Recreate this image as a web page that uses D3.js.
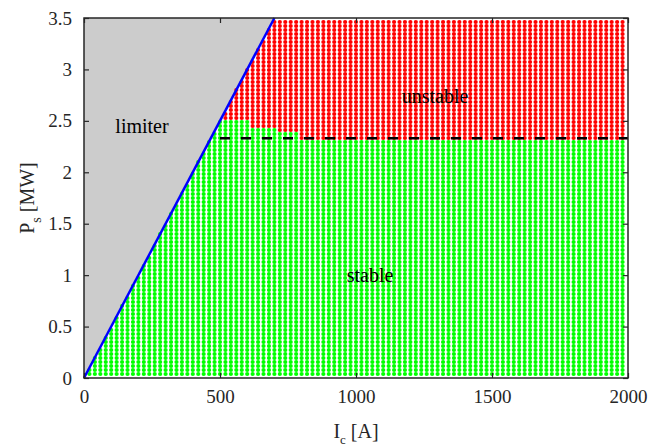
<!DOCTYPE html>
<html><head><meta charset="utf-8">
<script src="https://cdn.jsdelivr.net/npm/d3@7/dist/d3.min.js"></script>
<style>body{margin:0;background:#fff}svg{display:block}svg text{font-family:"Times New Roman","Liberation Serif","DejaVu Serif",serif !important}</style>
</head><body><svg id="c" width="650" height="447"></svg>
<script>
// sweep grid of the study
const currentGrid = d3.range(20, 2000, 20);               // I_c [A]
const powerGrid = d3.range(1, 90).map(k => k * 3.5 / 90);  // P_s [MW]
// limiter line
const limiterI = [0, 700];
const limiterP = [0, 3.5];
// stability boundary (upper stable P per current range)
const boundaryIUpper = [600, 700, 780, 2000];
const boundaryP = [2.49, 2.42, 2.38, 2.32];
const dashedI = [500, 2000];
const dashedP = 2.33;
const xTicks = [0, 500, 1000, 1500, 2000];
const yTicks = [0, 0.5, 1, 1.5, 2, 2.5, 3, 3.5];
const labels = [{t:"limiter", x:142, y:133}, {t:"unstable", x:435, y:103}, {t:"stable", x:370, y:282}];

const W = 650, H = 447, m = {l:84, r:22, t:18, b:69};
const svg = d3.select("#c");
const x = d3.scaleLinear().domain([0, 2000]).range([m.l, W - m.r]);
const y = d3.scaleLinear().domain([0, 3.5]).range([H - m.b, m.t]);
const slope = limiterP[1] / limiterI[1];

svg.append("path")
  .attr("d", d3.line()([[x(0), y(0)], [x(limiterI[1]), y(limiterP[1])], [x(0), y(3.5)]]) + "Z")
  .attr("fill", "#cccccc");

const pts = [];
currentGrid.forEach(I => {
  const idx = boundaryIUpper.findIndex(b => I <= b);
  const lim = boundaryP[idx];
  powerGrid.forEach(P => {
    if (P <= slope * I + 1e-9) pts.push({I, P, s: P <= lim});
  });
});
svg.append("g").selectAll("circle").data(pts).join("circle")
  .attr("cx", d => x(d.I)).attr("cy", d => y(d.P)).attr("r", 2.1)
  .attr("fill", d => d.s ? "#00ff00" : "#ff0000");

svg.append("line").attr("x1", x(limiterI[0])).attr("y1", y(limiterP[0]))
  .attr("x2", x(limiterI[1])).attr("y2", y(limiterP[1]))
  .attr("stroke", "#0000ff").attr("stroke-width", 2.5);

svg.append("line").attr("x1", x(dashedI[0])).attr("x2", x(dashedI[1]))
  .attr("y1", y(dashedP)).attr("y2", y(dashedP))
  .attr("stroke", "#000").attr("stroke-width", 2.5).attr("stroke-dasharray", "10,11");

const axCol = "#262626";
svg.append("rect").attr("x", m.l).attr("y", m.t).attr("width", W - m.l - m.r).attr("height", H - m.t - m.b)
  .attr("fill", "none").attr("stroke", axCol).attr("stroke-width", 1.5);
const tl = 5;
const gx = svg.append("g").attr("transform", `translate(0,${H - m.b})`)
  .call(d3.axisBottom(x).tickValues(xTicks).tickSizeInner(-tl).tickSizeOuter(0).tickPadding(12).tickFormat(d3.format("")));
const gxt = svg.append("g").attr("transform", `translate(0,${m.t})`)
  .call(d3.axisTop(x).tickValues(xTicks).tickSizeInner(-tl).tickSizeOuter(0).tickFormat(""));
const gy = svg.append("g").attr("transform", `translate(${m.l},0)`)
  .call(d3.axisLeft(y).tickValues(yTicks).tickSizeInner(-tl).tickSizeOuter(0).tickPadding(12).tickFormat(d3.format("")));
const gyr = svg.append("g").attr("transform", `translate(${W - m.r},0)`)
  .call(d3.axisRight(y).tickValues(yTicks).tickSizeInner(-tl).tickSizeOuter(0).tickFormat(""));
[gx, gxt, gy, gyr].forEach(g => {
  g.attr("font-family", null).attr("font-size", null);
  g.select(".domain").remove();
  g.selectAll("line").attr("stroke", axCol).attr("stroke-width", 1.2);
  g.selectAll("text").attr("font-size", 19).attr("fill", axCol);
});

const xl = svg.append("text").attr("x", 356).attr("y", 438).attr("text-anchor", "middle").attr("font-size", 20).attr("fill", axCol);
xl.append("tspan").text("I");
xl.append("tspan").attr("dy", 6).attr("font-size", 13).text("c");
xl.append("tspan").attr("dy", -6).text(" [A]");
const yl = svg.append("text").attr("transform", "translate(34,198) rotate(-90)").attr("text-anchor", "middle").attr("font-size", 20).attr("fill", axCol);
yl.append("tspan").text("P");
yl.append("tspan").attr("dy", 7).attr("font-size", 14).text("s");
yl.append("tspan").attr("dy", -7).text(" [MW]");

svg.selectAll("text.lab").data(labels).join("text").attr("class", "lab")
  .attr("x", d => d.x).attr("y", d => d.y).attr("text-anchor", "middle")
  .attr("font-size", 20).attr("fill", "#000").text(d => d.t);
</script></body></html>
